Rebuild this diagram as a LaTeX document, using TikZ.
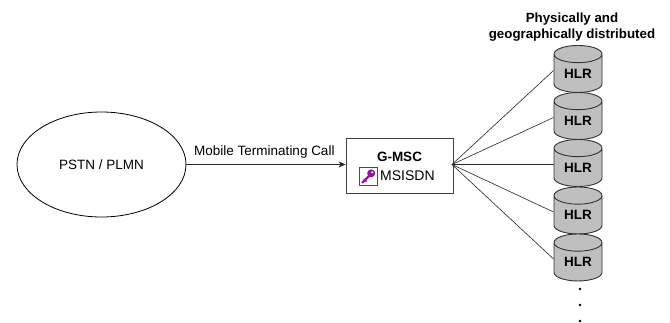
\documentclass[tikz,border=0pt]{standalone}
\usepackage{fontspec}
\setmainfont{Liberation Sans}
\usetikzlibrary{shapes.geometric,arrows.meta}
\definecolor{keypurple}{RGB}{150,20,160}
\tikzset{
  hlr/.style={cylinder,shape border rotate=90,draw=black!80,line width=0.9pt,fill=black!25,
    cylinder uses custom fill,cylinder body fill=black!25,cylinder end fill=black!25,
    aspect=0.62,minimum width=48pt,minimum height=47pt,inner sep=0pt,
    font=\fontsize{13.5}{13.5}\selectfont\bfseries,text=black},
  msc/.style={draw=black!75,line width=0.9pt,fill=white,minimum width=107pt,minimum height=55pt,inner sep=0pt},
  cloud/.style={ellipse,draw=black,line width=0.8pt,minimum width=169pt,minimum height=105pt,inner sep=0pt,
    font=\fontsize{13.5}{13.5}\selectfont},
  wire/.style={draw=black!85,line width=0.6pt},
  lbl/.style={font=\fontsize{13.5}{13.5}\selectfont,inner sep=0pt},
  headtxt/.style={font=\fontsize{13.3}{13.3}\selectfont\bfseries,inner sep=0pt},
  tinydot/.style={circle,fill=black,inner sep=0pt,minimum size=2.6pt}
}
\begin{document}
\begin{tikzpicture}[x=1pt,y=-1pt]
\useasboundingbox[fill=white] (0,0) rectangle (670,322);
\node[cloud] (pstn) at (101.5,164.5) {PSTN / PLMN};
\node[msc] (gmsc) at (399.5,165.5) {};
\node[lbl,font=\fontsize{13.5}{13.5}\selectfont\bfseries] (gt) at (399.5,157) {G-MSC};
\node[lbl,font=\fontsize{14}{14}\selectfont,anchor=west] (ms) at (380,176) {MSISDN};
\node[draw=black!70,line width=0.7pt,fill=white,minimum size=18pt,inner sep=0pt] (icon) at (368,176.5) {};
\begin{scope}[shift={(icon.center)}]
\draw[line width=2.2pt,color=keypurple,line cap=round] (-5.5,6) -- (2,-1.5);
\draw[line width=1.5pt,color=keypurple] (-4,2.5)--(-1.5,5);
\fill[color=keypurple] (3.2,-3.2) circle (4pt);
\fill[white] (4.2,-4.2) circle (1.1pt);
\end{scope}
\draw[wire,-{Stealth[length=7pt,width=6pt]}] (pstn.east) -- node[lbl,above=5.5pt,pos=0.49] {Mobile Terminating Call} (gmsc.west |- pstn.east);
\node[hlr] (h1) at (578,73.5) {HLR};
\node[hlr] (h2) at (578,120.5) {HLR};
\node[hlr] (h3) at (578,167.5) {HLR};
\node[hlr] (h4) at (578,215) {HLR};
\node[hlr] (h5) at (578,262) {HLR};
\coordinate (fan) at ([xshift=-1.5pt,yshift=1pt]gmsc.east);
\foreach \n in {h1,h2,h3,h4,h5} \draw[wire] (fan) -- ([yshift=3pt]\n.west);
\node[headtxt] (cap1) at (572,19.5) {Physically and};
\node[headtxt] (cap2) at (572,35.5) {geographically distributed};
\node[tinydot] (d1) at (580,289) {};
\node[tinydot] (d2) at (580,305) {};
\node[tinydot] (d3) at (580,321) {};
\end{tikzpicture}
\end{document}
